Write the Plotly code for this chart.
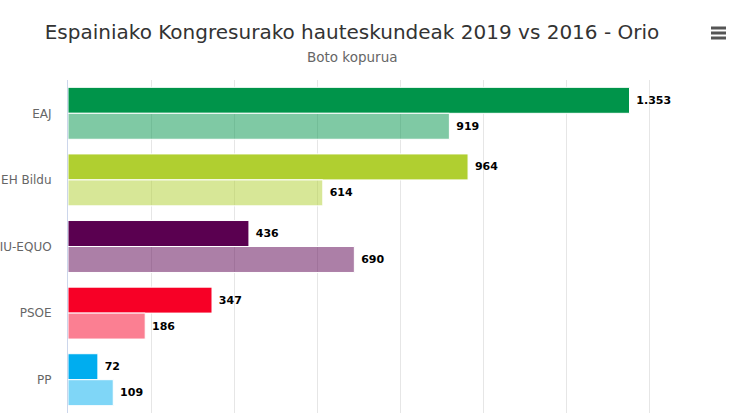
import plotly.graph_objects as go

categories = ["EAJ", "EH Bildu", "EP-IU-EQUO", "PSOE", "PP"]
votes_2019 = [1353, 964, 436, 347, 72]
votes_2016 = [919, 614, 690, 186, 109]
party_colors = ["#00944a", "#b0cf30", "#5a0050", "#f70026", "#00adef"]

title_text = "Espainiako Kongresurako hauteskundeak 2019 vs 2016 - Orio"
subtitle_text = "Boto kopurua"

W, H = 735, 413
L, R, T, B = 68, 3, 80, 0
pw, ph = W - L - R, H - T - B

def px_x(x):
    return (x - L) / pw

def px_y(y):
    return 1 + (T - y) / ph

def faded(hex_color, alpha=0.5):
    h = hex_color.lstrip("#")
    r, g, b = int(h[0:2], 16), int(h[2:4], 16), int(h[4:6], 16)
    return f"rgba({r},{g},{b},{alpha})"

font_family = "DejaVu Sans, Verdana, sans-serif"
label_font = dict(family=font_family, size=11, color="#000000", weight="bold")

fig = go.Figure()
fig.add_trace(go.Bar(
    name="2019", y=categories, x=votes_2019, orientation="h",
    marker=dict(color=party_colors, line=dict(color="white", width=1)),
    texttemplate="\u00a0%{x:,.0f}", textposition="outside", cliponaxis=False,
    textfont=label_font,
))
fig.add_trace(go.Bar(
    name="2016", y=categories, x=votes_2016, orientation="h",
    marker=dict(color=[faded(c) for c in party_colors], line=dict(color="white", width=1)),
    texttemplate="\u00a0%{x:,.0f}", textposition="outside", cliponaxis=False,
    textfont=label_font,
))

shapes = []
for yy in (28, 33, 38):
    shapes.append(dict(type="line", xref="paper", yref="paper",
                       x0=px_x(711), x1=px_x(726), y0=px_y(yy), y1=px_y(yy),
                       line=dict(color="#555555", width=3)))

fig.update_layout(
    width=W, height=H,
    margin=dict(l=L, r=R, t=T, b=B, autoexpand=False),
    paper_bgcolor="white", plot_bgcolor="white",
    separators=",.",
    barmode="group", bargap=0.22, bargroupgap=0,
    showlegend=False,
    font=dict(family=font_family, color="#666666", size=12),
    title=dict(text=title_text, xref="container", yref="container",
               x=352 / W, y=1 - 32 / H, xanchor="center", yanchor="middle",
               font=dict(size=20, color="#333333", family=font_family)),
    annotations=[dict(text=subtitle_text, xref="paper", yref="paper",
                      x=px_x(352), y=px_y(57), xanchor="center", yanchor="middle",
                      showarrow=False, font=dict(size=13.5, color="#666666"))],
    shapes=shapes,
    xaxis=dict(range=[0, 1600], dtick=200, showgrid=True, gridcolor="#e6e6e6",
               gridwidth=1, zeroline=False, showticklabels=False, showline=False),
    yaxis=dict(autorange="reversed", showgrid=False, showline=True,
               linecolor="#ccd6eb", linewidth=1, ticks="",
               ticklabelstandoff=13,
               tickfont=dict(size=12, color="#666666")),
)

fig.write_html("out.html", config={"displayModeBar": False},
               post_script="document.body.style.margin='0';document.body.style.overflow='hidden';")
